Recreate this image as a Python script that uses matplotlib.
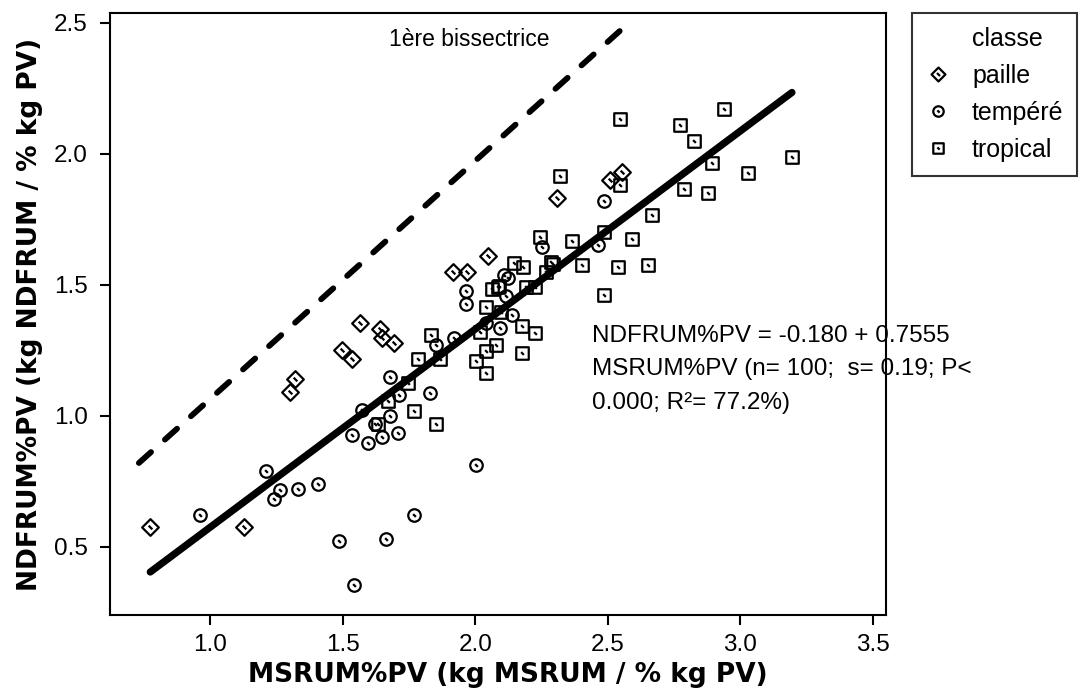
import numpy as np
import matplotlib
matplotlib.use("Agg")
import matplotlib.pyplot as plt
from matplotlib.path import Path
from matplotlib.lines import Line2D

# ---- data ------------------------------------------------------------------
paille_x = [0.773, 1.126, 1.300, 1.320, 1.496, 1.534, 1.566, 1.641, 1.647, 1.693,
            1.917, 1.968, 2.049, 2.307, 2.508, 2.552]
paille_y = [0.575, 0.575, 1.089, 1.141, 1.252, 1.216, 1.356, 1.332, 1.297, 1.278,
            1.547, 1.547, 1.608, 1.831, 1.898, 1.929]

tempere_x = [0.961, 1.211, 1.240, 1.264, 1.332, 1.407, 1.484, 1.543, 1.663, 1.770,
             2.002, 1.535, 1.571, 1.596, 1.622, 1.648, 1.677, 1.707, 1.677, 1.711,
             1.830, 1.852, 1.921, 1.964, 1.964, 2.041, 2.094, 2.117, 2.107, 2.125,
             2.139, 2.252, 2.464, 2.486]
tempere_y = [0.622, 0.791, 0.683, 0.716, 0.722, 0.738, 0.523, 0.356, 0.530, 0.622,
             0.814, 0.927, 1.022, 0.897, 0.968, 0.920, 0.998, 0.936, 1.149, 1.080,
             1.088, 1.271, 1.297, 1.425, 1.477, 1.356, 1.334, 1.456, 1.537, 1.524,
             1.386, 1.645, 1.652, 1.821]

tropical_x = [2.545, 2.772, 2.826, 2.937, 2.894, 3.195, 3.029, 2.787, 2.879, 2.547,
              2.319, 2.667, 2.484, 2.592, 2.365, 2.243, 2.401, 2.538, 2.652, 2.485,
              2.146, 2.178, 2.284, 2.292, 2.268, 2.192, 2.227, 2.062, 2.089, 2.085,
              2.042, 2.098, 2.175, 2.226, 2.017, 2.079, 2.040, 2.002, 2.175, 2.040,
              1.834, 1.784, 1.866, 1.745, 1.672, 1.769, 1.851, 1.633]
tropical_y = [2.133, 2.111, 2.050, 2.171, 1.966, 1.988, 1.928, 1.867, 1.851, 1.880,
              1.914, 1.767, 1.701, 1.675, 1.666, 1.684, 1.576, 1.568, 1.576, 1.462,
              1.585, 1.568, 1.586, 1.580, 1.549, 1.490, 1.493, 1.484, 1.497, 1.490,
              1.416, 1.395, 1.342, 1.316, 1.320, 1.271, 1.249, 1.210, 1.241, 1.165,
              1.309, 1.218, 1.218, 1.125, 1.058, 1.019, 0.967, 0.970]

# fitted line NDFRUM%PV = -0.180 + 0.7555 MSRUM%PV
intercept = -0.180
slope = 0.7555

# dashed "1ère bissectrice" as drawn in the reference
bis_x = [0.73, 2.58]
bis_y = [0.82, 2.50]

x_ticks = [1.0, 1.5, 2.0, 2.5, 3.0, 3.5]
y_ticks = [0.5, 1.0, 1.5, 2.0, 2.5]

eq_text = ("NDFRUM%PV = -0.180 + 0.7555\n"
           "MSRUM%PV (n= 100;  s= 0.19; P<\n"
           "0.000; R\u00b2= 77.2%)")


# ---- markers with the little inner dash (Minitab style) ----------------------
def with_dash(outline, d=0.22):
    dash = Path([(-d, d), (d, -d)], [Path.MOVETO, Path.LINETO])
    return Path.make_compound_path(outline, dash)


diamond = with_dash(Path([(0, 1), (1, 0), (0, -1), (-1, 0), (0, 1)],
                         [Path.MOVETO, Path.LINETO, Path.LINETO, Path.LINETO,
                          Path.CLOSEPOLY]))
circle = with_dash(Path.unit_circle())
square = with_dash(Path([(-1, 1), (1, 1), (1, -1), (-1, -1), (-1, 1)],
                        [Path.MOVETO, Path.LINETO, Path.LINETO, Path.LINETO,
                         Path.CLOSEPOLY]))

plt.rcParams["font.family"] = ["Liberation Sans", "DejaVu Sans"]
bold_font = dict(family="DejaVu Sans", fontsize=19, fontweight="bold")

fig = plt.figure(figsize=(10.91, 6.96), dpi=100)
ax = fig.add_axes([110 / 1091, 1 - 615 / 696, 776 / 1091, 602 / 696])

style = dict(linestyle="none", mfc="none", mec="black", mew=1.6)
ax.plot(paille_x, paille_y, marker=diamond, ms=12, **style)
ax.plot(tempere_x, tempere_y, marker=circle, ms=9, **style)
ax.plot(tropical_x, tropical_y, marker=square, ms=9, **style)

all_x = np.array(paille_x + tempere_x + tropical_x)
fx = np.array([all_x.min(), all_x.max()])
ax.plot(fx, intercept + slope * fx, color="black", lw=5.2,
        solid_capstyle="round")

ax.plot(bis_x, bis_y, color="black", lw=4.2, dashes=(2.8, 3.2),
        dash_capstyle="round")

ax.text(469 / 1091, 1 - 39.5 / 696, "1\u00e8re bissectrice",
        transform=fig.transFigure, ha="center", va="center", fontsize=16.5)
ax.text(592 / 1091, 1 - 361 / 696, eq_text, transform=fig.transFigure,
        ha="left", va="center_baseline", fontsize=17.5, linespacing=1.68,
        clip_on=False)

ax.set_xlim(0.621, 3.55)
ax.set_ylim(0.24, 2.537)
ax.set_xticks(x_ticks)
ax.set_yticks(y_ticks)
ax.set_xticklabels([f"{v:.1f}" for v in x_ticks])
ax.set_yticklabels([f"{v:.1f}" for v in y_ticks])
ax.tick_params(direction="out", length=7, width=1.5, labelsize=17.5)
ax.tick_params(axis="x", pad=7)
ax.tick_params(axis="y", pad=9)
for s in ax.spines.values():
    s.set_linewidth(1.5)

ax.set_xlabel("MSRUM%PV (kg MSRUM / % kg PV)", labelpad=4, **bold_font)
ax.set_ylabel("NDFRUM%PV (kg NDFRUM / % kg PV)", labelpad=8, **bold_font)
ax.xaxis.label.set_x(0.513)

# legend box on the right, "classe" used as a heading line
handles = [Line2D([], [], linestyle="none"),
           Line2D([], [], marker=diamond, ms=10, **style),
           Line2D([], [], marker=circle, ms=7.5, **style),
           Line2D([], [], marker=square, ms=7.5, **style)]
labels = ["classe", "paille", "temp\u00e9r\u00e9", "tropical"]
leg = fig.legend(handles, labels, loc="upper left",
                 bbox_to_anchor=(912 / 1091, 1 - 13 / 696),
                 fontsize=18, frameon=True, fancybox=False,
                 handlelength=1.0, handletextpad=0.85, labelspacing=0.52,
                 borderpad=0.55, borderaxespad=0)
leg.get_frame().set_edgecolor("black")
leg.get_frame().set_linewidth(1.5)

fig.savefig("out.png", dpi=100)
